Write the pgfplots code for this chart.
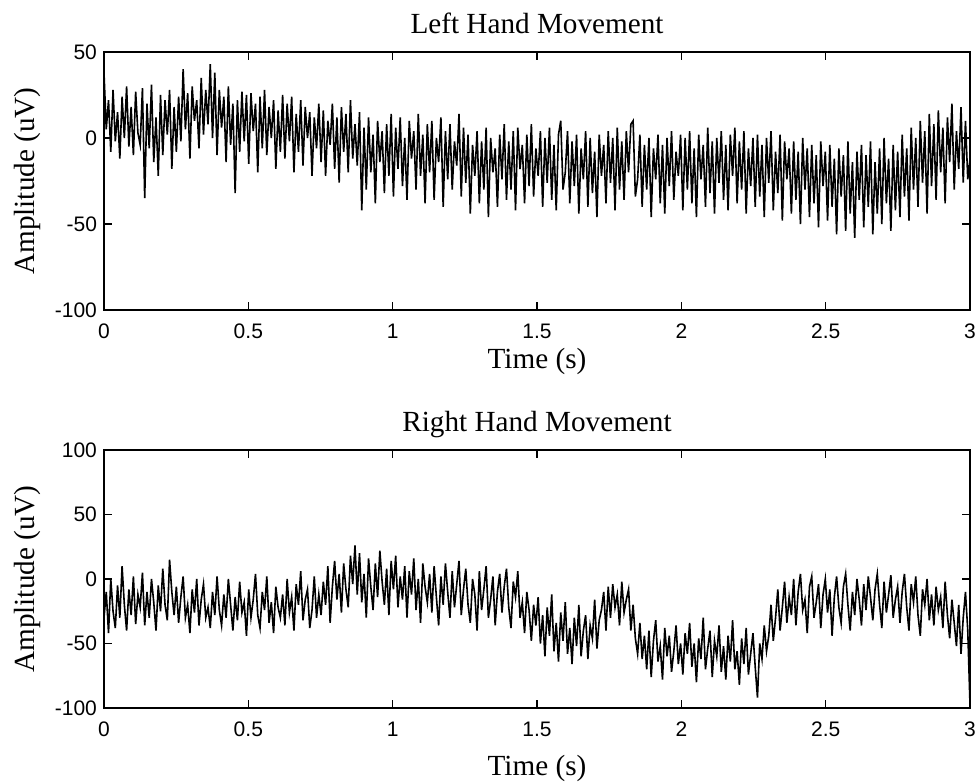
\documentclass[border=0pt]{standalone}
\usepackage{fontspec}
\setmainfont{Liberation Serif}
\newfontfamily\tickfont{Liberation Sans}
\usepackage{pgfplots}
\usepackage{pgfplotstable}
\pgfplotsset{compat=1.18}

% 384 samples per channel (128 Hz, 3 s), values in uV
\pgfplotstableread[row sep=\\, header=false]{
38\\5\\22\\-8\\28\\-2\\15\\-12\\24\\0\\30\\-5\\18\\-10\\27\\3\\
-4\\29\\-35\\20\\-6\\31\\-14\\12\\-22\\25\\-10\\22\\2\\28\\-18\\18\\
-8\\24\\-2\\40\\5\\26\\-12\\30\\10\\22\\-6\\35\\2\\28\\8\\43\\
0\\38\\-10\\28\\6\\24\\-14\\30\\-4\\20\\-32\\22\\-8\\27\\-2\\25\\
-15\\26\\4\\20\\-20\\24\\-6\\28\\-10\\18\\0\\22\\-18\\16\\-8\\25\\
-12\\20\\-2\\24\\-20\\14\\-8\\22\\-16\\18\\0\\15\\-22\\12\\-6\\20\\
-14\\16\\-22\\10\\-4\\20\\-18\\12\\-26\\18\\-8\\14\\-20\\22\\-12\\8\\
-16\\15\\-42\\6\\-30\\12\\-20\\2\\-38\\10\\-14\\4\\-32\\8\\-22\\14\\
-34\\6\\-18\\12\\-28\\0\\-36\\10\\-12\\4\\-30\\14\\-22\\2\\-38\\8\\
-20\\10\\-36\\0\\-14\\12\\-40\\4\\-24\\8\\-30\\-2\\-16\\14\\-34\\6\\
-26\\2\\-44\\-4\\-22\\4\\-38\\-2\\-30\\6\\-46\\0\\-20\\-6\\-40\\2\\
-24\\8\\-36\\-2\\-30\\4\\-42\\6\\-18\\-4\\-38\\2\\-28\\8\\-34\\-6\\
-22\\4\\-40\\0\\-26\\6\\-36\\-4\\-42\\2\\10\\-30\\-20\\4\\-38\\-2\\
-28\\2\\-44\\-6\\-24\\4\\-40\\0\\-32\\-8\\-46\\2\\-22\\-4\\-38\\4\\
-26\\0\\-42\\6\\-30\\-2\\-36\\4\\-20\\8\\10\\-34\\-24\\2\\-40\\-4\\
-30\\0\\-46\\-6\\-24\\2\\-38\\-4\\-44\\0\\-28\\4\\-36\\-8\\-22\\2\\
-42\\0\\-30\\4\\-38\\-6\\-46\\2\\-24\\-4\\-40\\6\\-32\\-2\\-44\\0\\
-26\\4\\-36\\-4\\-42\\2\\-22\\6\\-38\\-2\\-30\\4\\-44\\-6\\-28\\0\\
-40\\2\\-34\\-4\\-46\\0\\-26\\4\\-42\\-8\\-32\\2\\-48\\-2\\-24\\-6\\
-44\\-2\\-36\\-8\\-50\\0\\-30\\-6\\-46\\-4\\-38\\-10\\-52\\-2\\-28\\-8\\
-48\\-4\\-40\\-12\\-56\\-6\\-34\\-10\\-54\\-2\\-44\\-14\\-58\\-8\\-36\\-4\\
-52\\-10\\-40\\-2\\-56\\-14\\-44\\-6\\-50\\0\\-38\\-12\\-54\\-4\\-42\\-8\\
-46\\2\\-34\\-6\\-48\\6\\-30\\0\\-40\\10\\-26\\4\\-44\\14\\-28\\8\\
-36\\16\\-20\\6\\-38\\12\\-14\\20\\-30\\4\\-18\\18\\-26\\10\\-24\\-12\\
}\lefthand

\pgfplotstableread[row sep=\\, header=false]{
-30\\-10\\-42\\0\\-25\\-38\\-5\\-30\\10\\-20\\-40\\-8\\-28\\2\\-35\\-12\\
-22\\5\\-36\\-10\\-30\\0\\-18\\-40\\-5\\-25\\8\\-20\\-32\\15\\-10\\-28\\
-6\\-34\\-14\\2\\-30\\-20\\-42\\-8\\-26\\0\\-36\\-16\\-4\\-30\\-22\\-38\\
-10\\-28\\2\\-24\\-36\\-12\\-30\\0\\-20\\-40\\-14\\-32\\-2\\-26\\-18\\-44\\
-8\\-30\\-16\\4\\-28\\-38\\-10\\-24\\2\\-34\\-18\\-42\\-6\\-22\\-30\\-12\\
-36\\0\\-26\\-14\\-40\\-4\\-20\\6\\-32\\-16\\-8\\-38\\-24\\2\\-30\\-12\\
-28\\-2\\-20\\10\\-34\\-6\\14\\-16\\4\\-26\\12\\-8\\-22\\18\\-4\\26\\
-12\\20\\-18\\4\\-30\\16\\-6\\-24\\12\\-14\\22\\-2\\-20\\8\\-28\\14\\
-8\\18\\-22\\2\\-16\\10\\-30\\6\\-12\\16\\-24\\0\\-34\\12\\-6\\-18\\
4\\-26\\10\\-14\\-36\\2\\-20\\12\\-10\\-30\\6\\-22\\-4\\14\\-28\\-8\\
8\\-20\\-34\\0\\-12\\-40\\6\\-24\\-8\\10\\-30\\-16\\2\\-36\\-10\\4\\
-26\\-6\\8\\-22\\-38\\-2\\-14\\6\\-30\\-18\\-42\\-10\\-24\\-48\\-20\\-36\\
-14\\-50\\-28\\-60\\-22\\-44\\-12\\-56\\-34\\-64\\-26\\-48\\-18\\-58\\-38\\-66\\
-30\\-52\\-20\\-60\\-40\\-28\\-62\\-36\\-46\\-16\\-54\\-32\\-24\\-10\\-40\\-6\\
-30\\-4\\-22\\-12\\-36\\-2\\-26\\-16\\-8\\-40\\-20\\-46\\-58\\-34\\-62\\-44\\
-70\\-40\\-76\\-48\\-32\\-64\\-52\\-78\\-38\\-60\\-44\\-72\\-56\\-36\\-66\\-50\\
-74\\-42\\-58\\-34\\-68\\-50\\-80\\-46\\-62\\-30\\-70\\-54\\-40\\-76\\-48\\-60\\
-36\\-72\\-52\\-78\\-44\\-64\\-32\\-70\\-56\\-82\\-46\\-66\\-38\\-74\\-58\\-42\\
-68\\-92\\-50\\-62\\-36\\-56\\-44\\-20\\-48\\-30\\-8\\-40\\-22\\-2\\-34\\-14\\
-28\\0\\-36\\-10\\4\\-24\\-16\\-42\\-6\\2\\-30\\-18\\-4\\-38\\-12\\0\\
-26\\-8\\-44\\-14\\2\\-22\\-34\\-6\\4\\-20\\-40\\-10\\-28\\0\\-16\\-36\\
-4\\-24\\2\\-14\\-32\\-8\\4\\-20\\-38\\-2\\-26\\-12\\3\\-30\\-16\\-6\\
-34\\-10\\4\\-22\\-40\\-4\\-18\\2\\-28\\-44\\-8\\-20\\0\\-32\\-12\\-36\\
-6\\-24\\-14\\-38\\-2\\-28\\-46\\-16\\-34\\-52\\-20\\-58\\-30\\-10\\-40\\-98\\
}\righthand

\pgfplotsset{eeg/.style={
  scale only axis, width=433pt, height=129pt,
  xmin=0, xmax=3, xtick={0,0.5,1,1.5,2,2.5,3},
  tick align=inside, major tick length=4pt,
  axis line style={line width=0.7pt},
  every tick/.style={black, line width=0.7pt},
  tick label style={font=\tickfont\fontsize{10.5}{12}\selectfont},
  xticklabel style={yshift=-3.5pt},
  /pgf/number format/assume math mode=true,
  title style={font=\fontsize{14.6}{16}\selectfont, at={(axis description cs:0.5,1.024)}, anchor=base},
  xlabel={Time (s)},
  ylabel={Amplitude (uV)},
  ylabel style={font=\fontsize{14.6}{16}\selectfont, at={(axis description cs:-0.088,0.5)}, anchor=center},
}}

\begin{document}
\begin{tikzpicture}
\useasboundingbox (0,0) rectangle (488.5pt,390.5pt);
\begin{axis}[eeg, at={(52pt,235.5pt)}, anchor=south west,
  ymin=-100, ymax=50, ytick={-100,-50,0,50},
  xlabel style={font=\fontsize{14.6}{16}\selectfont, at={(axis description cs:0.5,-0.228)}, anchor=base},
  title={Left Hand Movement}]
\addplot[black, line width=0.8pt] table[x expr=\coordindex*3/383, y index=0] {\lefthand};
\end{axis}
\begin{axis}[eeg, at={(52pt,36.5pt)}, anchor=south west,
  ymin=-100, ymax=100, ytick={-100,-50,0,50,100},
  xlabel style={font=\fontsize{14.6}{16}\selectfont, at={(axis description cs:0.5,-0.262)}, anchor=base},
  title={Right Hand Movement}]
\addplot[black, line width=0.8pt] table[x expr=\coordindex*3/383, y index=0] {\righthand};
\end{axis}
\end{tikzpicture}
\end{document}
